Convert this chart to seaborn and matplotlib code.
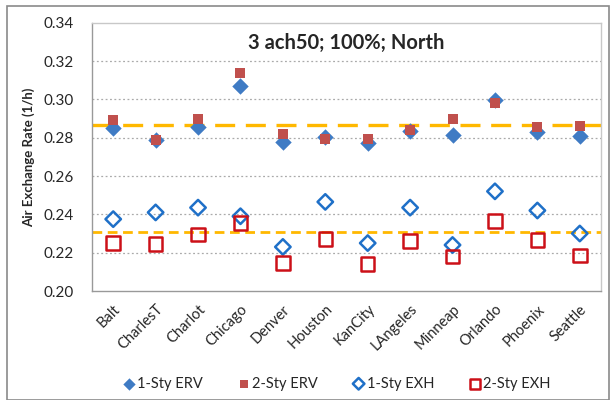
import matplotlib
matplotlib.use("Agg")
import matplotlib.pyplot as plt
import seaborn as sns
import pandas as pd
import numpy as np
from matplotlib.patches import Rectangle
from matplotlib.ticker import MultipleLocator, FixedLocator

cities = ["Balt", "CharlesT", "Charlot", "Chicago", "Denver", "Houston",
          "KanCity", "LAngeles", "Minneap", "Orlando", "Phoenix", "Seattle"]
erv_1sty = [0.285, 0.279, 0.2855, 0.307, 0.2775, 0.2805, 0.277, 0.2835, 0.2815, 0.2995, 0.283, 0.281]
erv_2sty = [0.289, 0.279, 0.290, 0.314, 0.282, 0.2795, 0.2795, 0.284, 0.2895, 0.298, 0.2855, 0.286]
exh_1sty = [0.2375, 0.241, 0.2435, 0.239, 0.223, 0.2465, 0.225, 0.2435, 0.224, 0.252, 0.242, 0.230]
exh_2sty = [0.225, 0.2245, 0.2295, 0.2355, 0.2145, 0.227, 0.214, 0.226, 0.218, 0.2365, 0.2265, 0.2185]
avg_erv = 0.2867
avg_exh = 0.2307
title = "3 ach50; 100%; North"
ylabel = "Air Exchange Rate (1/h)"

df = pd.DataFrame({"city": cities, "erv1": erv_1sty, "erv2": erv_2sty,
                   "exh1": exh_1sty, "exh2": exh_2sty})

sns.set_theme(style="white")
plt.rcParams["font.family"] = ["Lato", "DejaVu Sans"]

fig = plt.figure(figsize=(6.14, 4.0), dpi=100)
ax = fig.add_axes([92/614, 1-291/400, (601-92)/614, (291-22.7)/400])

blue_f = "#3F7BC4"
red_f = "#C0504D"
blue_o = "#1F70C8"
red_o = "#CC1018"
orange = "#FFB800"

ax.axhline(avg_erv, color=orange, lw=2.4, ls=(0, (6, 3.2)), zorder=1)
ax.axhline(avg_exh, color=orange, lw=2.0, ls=(0, (3.5, 2)), zorder=1)

sns.scatterplot(data=df, x="city", y="erv1", marker="D", s=70, color=blue_f,
                edgecolor=blue_f, linewidth=0, ax=ax, label="1-Sty ERV", zorder=3)
sns.scatterplot(data=df, x="city", y="erv2", marker="s", s=62, color=red_f,
                edgecolor=red_f, linewidth=0, ax=ax, label="2-Sty ERV", zorder=4)
sns.scatterplot(data=df, x="city", y="exh1", marker="D", s=62, facecolor="none",
                edgecolor=blue_o, linewidth=1.8, ax=ax, label="1-Sty EXH", zorder=3)
sns.scatterplot(data=df, x="city", y="exh2", marker="s", s=95, facecolor="none",
                edgecolor=red_o, linewidth=1.8, ax=ax, label="2-Sty EXH", zorder=4)

ax.set_xlim(-0.5, len(cities) - 0.5)
ax.set_ylim(0.20, 0.34)
ax.set_xlabel("")
ax.set_ylabel(ylabel, fontsize=9.5, fontweight="bold", labelpad=6)

ax.yaxis.set_minor_locator(MultipleLocator(0.004))
ax.set_yticks(np.arange(0.20, 0.3401, 0.02))
ax.set_yticklabels([f"{v:.2f}" for v in np.arange(0.20, 0.3401, 0.02)], fontsize=11)
ax.tick_params(axis="y", which="major", direction="out", length=5, color="#888888", pad=8)
ax.tick_params(axis="y", which="minor", direction="in", length=3, color="#999999")

ax.set_xticks(range(len(cities)))
ax.set_xticklabels(cities, rotation=45, ha="right", rotation_mode="anchor", fontsize=10.5)
ax.xaxis.set_minor_locator(FixedLocator(np.arange(-0.5, len(cities), 1.0)))
ax.tick_params(axis="x", which="major", length=0, pad=8)
ax.tick_params(axis="x", which="minor", direction="out", length=5, color="#888888")

for v in np.arange(0.22, 0.33, 0.02):
    ax.axhline(v, color="#AAAAAA", lw=0.9, ls=(0, (1.5, 2)), zorder=0)

for side in ["left", "bottom"]:
    ax.spines[side].set_color("#999999")
    ax.spines[side].set_linewidth(1.0)
for side in ["top", "right"]:
    ax.spines[side].set_color("#C8C8C8")
    ax.spines[side].set_linewidth(1.0)

ax.text(0.5, 0.96, title, transform=ax.transAxes, ha="center", va="top",
        fontsize=14.5, fontweight="bold")

leg = ax.legend(ncol=4, loc="center", bbox_to_anchor=(0.48, -0.345), frameon=False,
                fontsize=10.5, handletextpad=0.05, columnspacing=2.3, markerscale=0.75,
                handlelength=1.0)

fig.patches.append(Rectangle((7/614, 0.0), (609-7)/614, (397-3)/400,
                             transform=fig.transFigure, fill=False,
                             edgecolor="#8A8A8A", linewidth=1.2))

fig.savefig("out.png", dpi=100)
